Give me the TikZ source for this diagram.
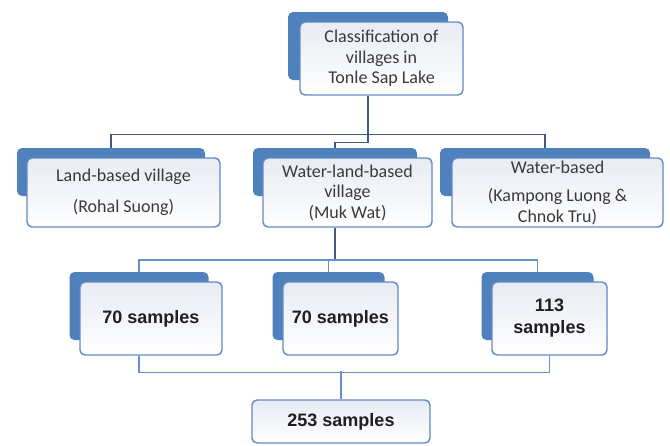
\documentclass[tikz,border=0pt]{standalone}
\usepackage{fontspec}
\setmainfont{Carlito}
\newfontfamily\samplefont{Liberation Sans}

\definecolor{backblue}{RGB}{79,129,189}
\definecolor{edgeblue}{RGB}{98,138,195}
\definecolor{linedark}{RGB}{66,92,130}
\definecolor{linelight}{RGB}{106,144,200}
\definecolor{boxtop}{RGB}{231,235,243}
\definecolor{txtgray}{RGB}{58,58,58}

\tikzset{
  backbox/.style={fill=backblue, rounded corners=5pt, inner sep=0pt},
  frontbox/.style={draw=edgeblue, line width=1.4pt, rounded corners=5pt,
    top color=boxtop, bottom color=white, inner sep=2pt, align=center,
    text=txtgray, font=\fontsize{18}{20.5}\selectfont},
  samplebox/.style={frontbox, text=black!88,
    font=\samplefont\bfseries\fontsize{18}{22}\selectfont},
  conn/.style={draw=linedark, line width=1.3pt},
  connlow/.style={draw=linelight, line width=1.5pt}
}

\begin{document}
\begin{tikzpicture}[x=1pt,y=-1pt]
  \useasboundingbox (0,0) rectangle (670,445);
  \node[backbox, minimum width=160, minimum height=68] (topbk) at (368,46) {};
  \node[frontbox, minimum width=163, minimum height=73] (top) at (381.5,58.5)
    {Classification of\\villages in\\Tonle Sap Lake};
  \node[backbox, minimum width=188, minimum height=48] (lftbk) at (111,172) {};
  \node[frontbox, minimum width=193, minimum height=69] (lft) at (123.5,192.5)
    {Land-based village\\[11pt](Rohal Suong)};
  \node[backbox, minimum width=164, minimum height=48] (midbk) at (335,172) {};
  \node[frontbox, minimum width=169, minimum height=69] (mid) at (347.5,192.5)
    {Water-land-based\\village\\(Muk Wat)};
  \node[backbox, minimum width=210, minimum height=48] (rgtbk) at (545,172) {};
  \node[frontbox, minimum width=211, minimum height=69] (rgt) at (557.5,192.5)
    {Water-based\\[8pt](Kampong Luong \&\\Chnok Tru)};
  \foreach \n/\x/\w/\t in {sa/151/142/70 samples, sb/340.5/115/70 samples, sc/549.5/115/{113\\samples}} {
    \node[backbox, minimum width=\w-3, minimum height=68] (bk\n) at (\x-12,306) {};
    \node[samplebox, minimum width=\w, minimum height=73] (\n) at (\x,318.5) {\t};
  }
  \node[samplebox, minimum width=178, minimum height=43] (total) at (341,421.5) {253 samples};
  \draw[conn] (topbk.south |- top.south) -- ++(0,47) -| (midbk.north);
  \draw[conn] (lftbk.north) -- ++(0,-13) -| (rgtbk.north);
  \draw[conn] (midbk.south |- mid.south) -- ++(0,33);
  \draw[connlow] (bksa.north) -- ++(0,-12) -| (bksc.north);
  \draw[connlow] (bksb.north) -- ++(0,-12);
  \draw[connlow] (bksa.south |- sa.south) -- ++(0,17) -| (sc.south);
  \draw[connlow] (total.north) -- ++(0,-28);
\end{tikzpicture}
\end{document}
